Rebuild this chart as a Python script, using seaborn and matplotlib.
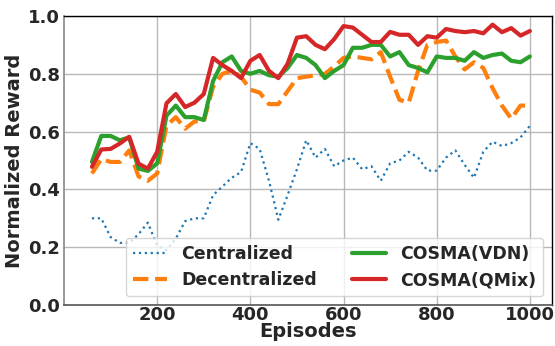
import matplotlib
matplotlib.use("Agg")
import matplotlib.pyplot as plt
import seaborn as sns

episodes = [60, 80, 100, 120, 140, 160, 180, 200, 220, 240, 260, 280, 300, 320, 340, 360,
            380, 400, 420, 440, 460, 480, 500, 520, 540, 560, 580, 600, 620, 640, 660, 680,
            700, 720, 740, 760, 780, 800, 820, 840, 860, 880, 900, 920, 940, 960, 980, 1000]

centralized = [0.30, 0.30, 0.235, 0.215, 0.215, 0.245, 0.285, 0.205, 0.19, 0.23, 0.29, 0.30,
               0.30, 0.38, 0.41, 0.44, 0.46, 0.56, 0.54, 0.43, 0.295, 0.38, 0.47, 0.57,
               0.51, 0.54, 0.48, 0.50, 0.51, 0.47, 0.48, 0.43, 0.49, 0.50, 0.53, 0.51,
               0.465, 0.465, 0.51, 0.535, 0.485, 0.44, 0.53, 0.565, 0.55, 0.56, 0.58, 0.62]

decentralized = [0.455, 0.505, 0.495, 0.495, 0.535, 0.445, 0.43, 0.455, 0.62, 0.65, 0.61, 0.635,
                 0.635, 0.755, 0.80, 0.81, 0.79, 0.745, 0.735, 0.695, 0.695, 0.74, 0.785, 0.79,
                 0.795, 0.80, 0.825, 0.855, 0.86, 0.855, 0.85, 0.875, 0.79, 0.71, 0.70, 0.81,
                 0.90, 0.91, 0.915, 0.86, 0.815, 0.84, 0.82, 0.75, 0.69, 0.645, 0.69, 0.69]

cosma_vdn = [0.495, 0.585, 0.585, 0.57, 0.58, 0.472, 0.464, 0.49, 0.655, 0.69, 0.65, 0.65,
             0.64, 0.775, 0.84, 0.86, 0.81, 0.80, 0.81, 0.795, 0.79, 0.82, 0.865, 0.855,
             0.83, 0.785, 0.81, 0.83, 0.89, 0.89, 0.90, 0.90, 0.86, 0.875, 0.83, 0.82,
             0.805, 0.86, 0.855, 0.855, 0.845, 0.875, 0.855, 0.865, 0.87, 0.845, 0.84, 0.86]

cosma_qmix = [0.478, 0.538, 0.54, 0.559, 0.582, 0.489, 0.472, 0.53, 0.698, 0.73, 0.685, 0.70,
              0.73, 0.855, 0.83, 0.81, 0.785, 0.845, 0.865, 0.81, 0.785, 0.835, 0.925, 0.93,
              0.90, 0.885, 0.92, 0.965, 0.96, 0.935, 0.91, 0.91, 0.945, 0.935, 0.935, 0.90,
              0.93, 0.925, 0.955, 0.948, 0.944, 0.948, 0.94, 0.97, 0.944, 0.958, 0.932, 0.948]

labels = ["Centralized", "Decentralized", "COSMA(VDN)", "COSMA(QMix)"]
xticks = [200, 400, 600, 800, 1000]
yticks = [0.0, 0.2, 0.4, 0.6, 0.8, 1.0]

sns.set_style("whitegrid", {"grid.color": "#b8b8b8", "axes.edgecolor": "black"})
plt.rcParams["font.family"] = ["DejaVu Sans"]
plt.rcParams["font.weight"] = "bold"

fig, ax = plt.subplots(figsize=(5.55, 3.46), dpi=100)
fig.subplots_adjust(left=0.1153, right=0.9946, top=0.9538, bottom=0.1185)

series = [centralized, decentralized, cosma_vdn, cosma_qmix]
colors = ["#1f77b4", "#ff7f0e", "#2ca02c", "#d62728"]
styles = [":", "--", "-", "-"]
widths = [1.6, 3.0, 3.0, 3.0]
for vals, lab, c, ls, lw in zip(series, labels, colors, styles, widths):
    sns.lineplot(x=episodes, y=vals, ax=ax, color=c, linestyle=ls, linewidth=lw, label=lab)

ax.set_xlim(0, 1047.5)
ax.set_ylim(0, 1.0)
ax.set_xticks(xticks)
ax.set_yticks(yticks)
ax.set_yticklabels([f"{v:.1f}" for v in yticks])
ax.tick_params(axis="both", labelsize=13, length=0)
ax.tick_params(axis="x", pad=0.5)
ax.tick_params(axis="y", pad=3)
for t in ax.get_xticklabels() + ax.get_yticklabels():
    t.set_fontweight("bold")
ax.grid(True, color="#b8b8b8", linewidth=1.0)

ax.set_xlabel("Episodes", fontsize=14, fontweight="bold", labelpad=-1)
ax.set_ylabel("Normalized Reward", fontsize=14, fontweight="bold", labelpad=3)

for side in ["top", "right"]:
    ax.spines[side].set_color("black")
    ax.spines[side].set_linewidth(1.0)
ax.spines["left"].set_color("#888888")
ax.spines["bottom"].set_color("#555555")
ax.spines["left"].set_linewidth(1.2)
ax.spines["bottom"].set_linewidth(1.2)

leg = ax.legend(ncol=2, loc="lower right", prop={"size": 12.5, "weight": "bold"},
                framealpha=0.8, columnspacing=2.0, handlelength=2.0)

fig.savefig("out.png", dpi=100)
